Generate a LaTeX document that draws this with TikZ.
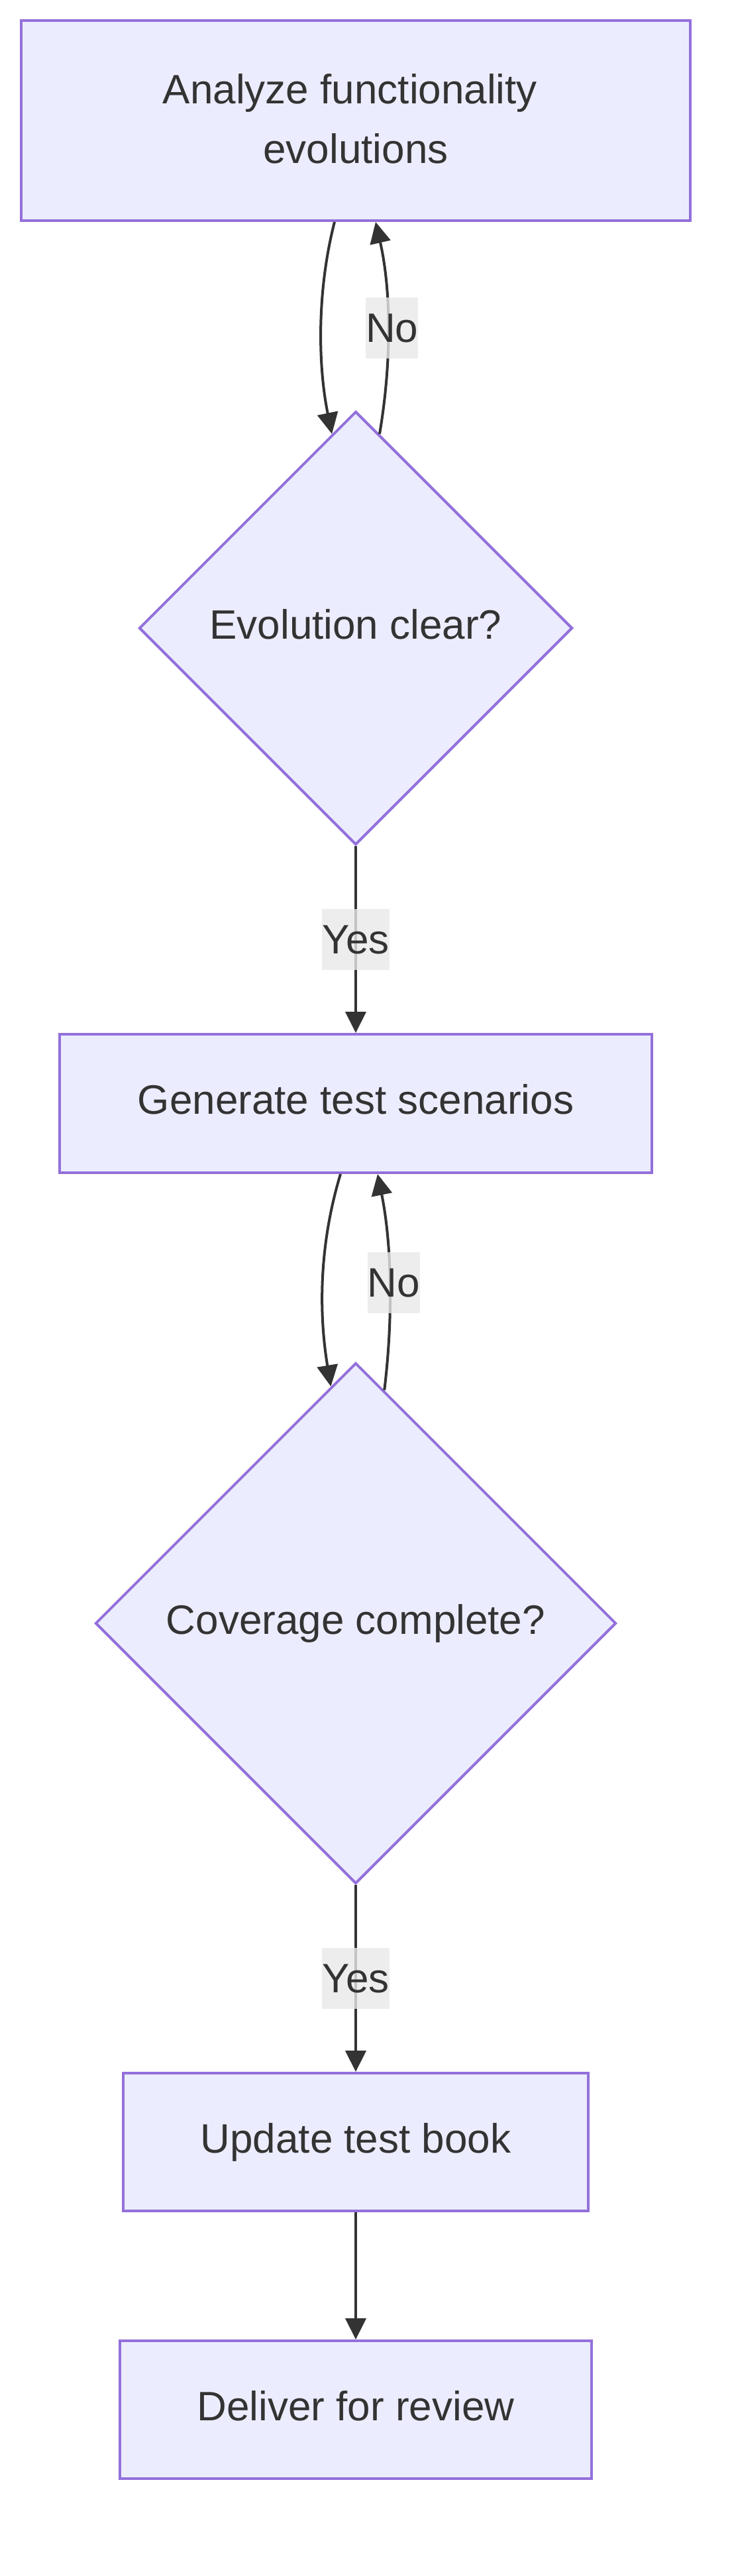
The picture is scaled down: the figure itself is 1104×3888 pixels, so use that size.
\documentclass[tikz,border=0pt]{standalone}
\usepackage{fontspec}
\setmainfont{Liberation Sans}
\usetikzlibrary{arrows.meta,shapes.geometric}
\definecolor{nodefill}{HTML}{ECECFF}
\definecolor{nodeline}{HTML}{9370DB}
\definecolor{ink}{HTML}{333333}
\definecolor{labelbg}{HTML}{E8E8E8}

\begin{document}
\begin{tikzpicture}[y=-1pt,x=1pt,
  box/.style={draw=nodeline,fill=nodefill,line width=4pt,text=ink,inner sep=0pt,font=\fontsize{62}{92}\selectfont},
  oneline/.style={text height=46pt,text depth=14pt},
  decide/.style={box,oneline,diamond,aspect=1},
  flow/.style={draw=ink,line width=4pt,-{Triangle[length=32pt,width=31pt]}},
  tag/.style={fill=labelbg,fill opacity=0.8,text opacity=1,text=ink,inner sep=0pt,minimum height=92pt,font=\fontsize{62}{92}\selectfont}]
  \useasboundingbox (0,0) rectangle (1104,3888);
  \node[box,minimum width=1010pt,minimum height=302pt,align=center] (analyze) at (537,182) {\raisebox{6pt}{\shortstack{Analyze functionality\hspace*{17pt}\\[29pt]evolutions}}};
  \node[decide,minimum width=654pt,minimum height=654pt] (evolok) at (537,948) {Evolution clear?};
  \node[box,oneline,minimum width=894pt,minimum height=209pt] (gen) at (537,1665.5) {Generate test scenarios};
  \node[decide,minimum width=786pt,minimum height=786pt] (cover) at (537,2450) {Coverage complete?};
  \node[box,oneline,minimum width=702pt,minimum height=208pt] (update) at (537,3233) {Update test book};
  \node[box,oneline,minimum width=712pt,minimum height=208pt] (deliver) at (537,3637) {Deliver for review};
  \draw[flow] ([xshift=-32pt]analyze.south) .. controls +(-27,105) and +(-21,-103) .. (evolok.97);
  \draw[flow] (evolok.83) .. controls +(18,-105) and +(24,105) .. ([xshift=30pt]analyze.south) node[tag,pos=0.5,xshift=6pt]{No};
  \draw[flow] (evolok.south) -- (gen.north) node[tag,midway]{Yes};
  \draw[flow] ([xshift=-23pt]gen.south) .. controls +(-33,109) and +(-18,-109) .. (cover.96);
  \draw[flow] (cover.83) .. controls +(13,-106) and +(22,109) .. ([xshift=33pt]gen.south) node[tag,pos=0.5,xshift=6pt]{No};
  \draw[flow] (cover.south) -- (update.north) node[tag,midway]{Yes};
  \draw[flow] (update) -- (deliver);
\end{tikzpicture}
\end{document}
